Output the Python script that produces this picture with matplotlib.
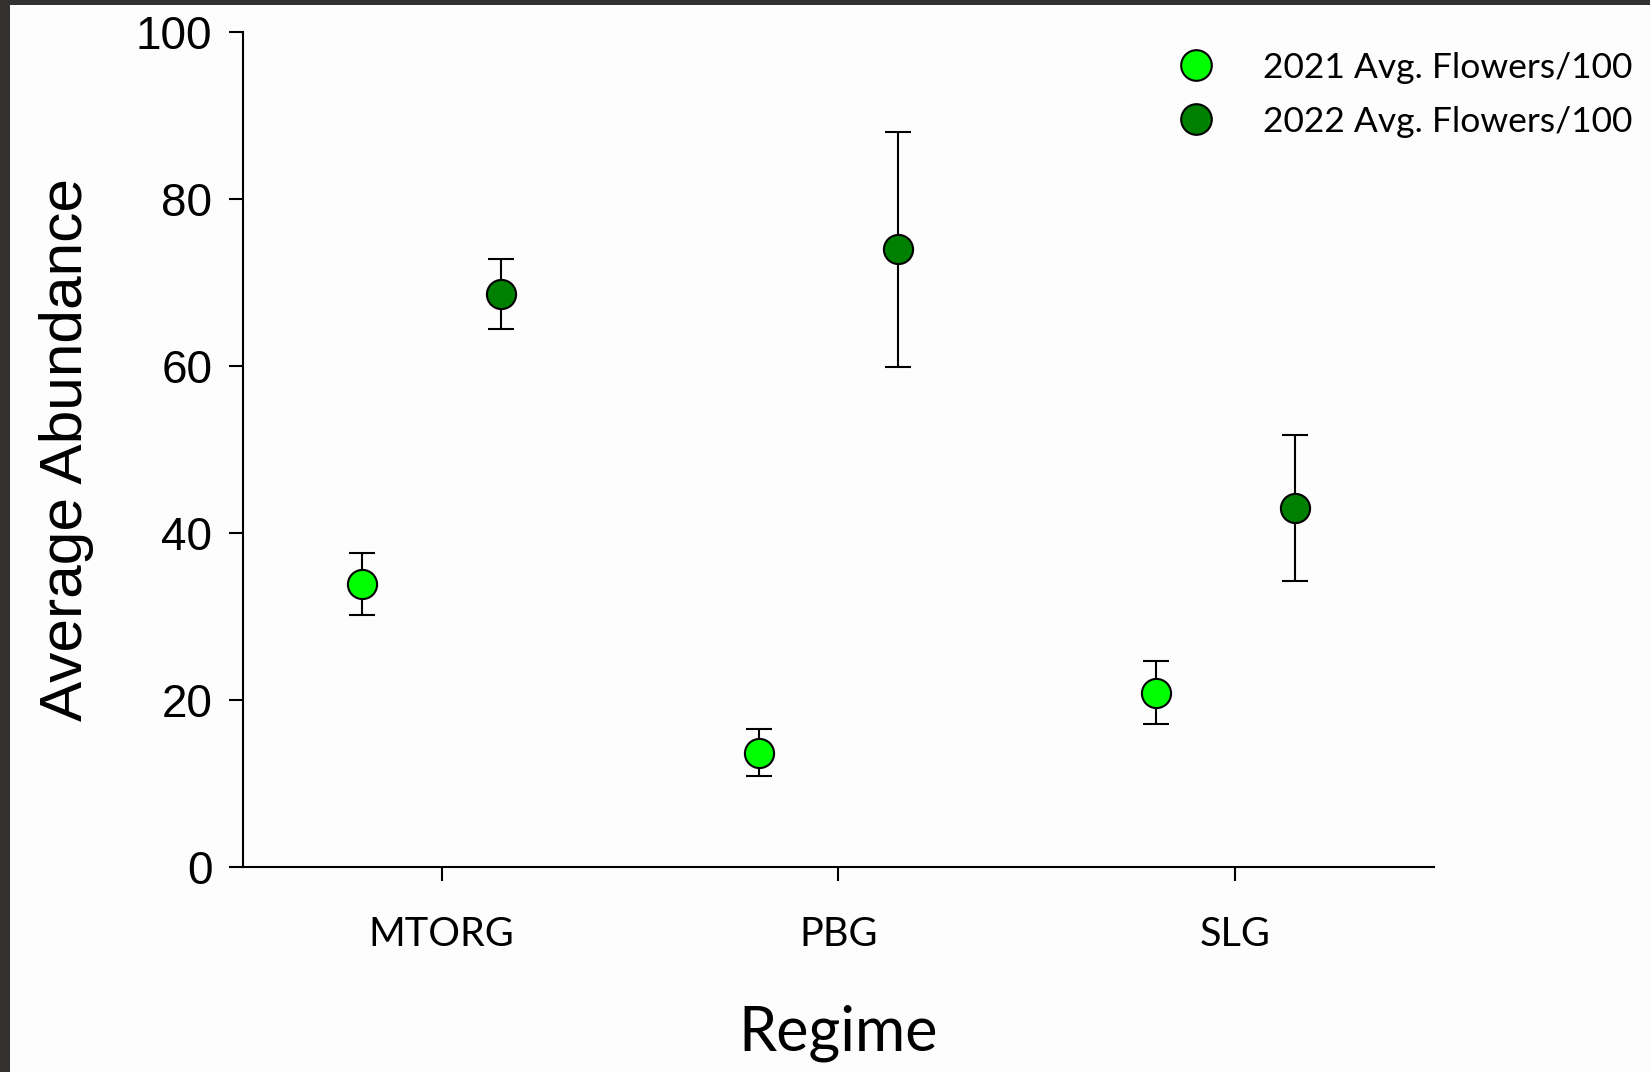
import numpy as np
import matplotlib.pyplot as plt
from matplotlib.patches import Rectangle

regimes = ['MTORG', 'PBG', 'SLG']
mean_2021 = [33.9, 13.7, 20.9]
err_2021 = [3.7, 2.8, 3.8]
mean_2022 = [68.6, 74.0, 43.0]
err_2022 = [4.2, 14.1, 8.7]
labels = ['2021 Avg. Flowers/100', '2022 Avg. Flowers/100']

arial = 'Liberation Sans'
calibri = 'Lato'

fig = plt.figure(figsize=(16.5, 10.72), dpi=100, facecolor='#333231')
fig.patches.append(Rectangle((10 / 1650, 0), 1, 1 - 5 / 1072, transform=fig.transFigure,
                             facecolor='#fdfdfd', edgecolor='none', zorder=-10))
ax = fig.add_axes([0.1473, 0.1912, 0.7217, 0.7788])
ax.set_facecolor('none')

x = np.arange(1, len(regimes) + 1)
ax.errorbar(x - 0.2, mean_2021, yerr=err_2021, fmt='o', color='black', ecolor='black',
            markerfacecolor='#00ff00', markeredgecolor='black', markeredgewidth=1.5,
            markersize=21, elinewidth=1.5, capsize=9.5, capthick=1.5, label=labels[0])
ax.errorbar(x + 0.15, mean_2022, yerr=err_2022, fmt='o', color='black', ecolor='black',
            markerfacecolor='#008000', markeredgecolor='black', markeredgewidth=1.5,
            markersize=21, elinewidth=1.5, capsize=9.5, capthick=1.5, label=labels[1])

ax.set_xlim(0.5, 3.5)
ax.set_ylim(0, 100)
ax.set_yticks([0, 20, 40, 60, 80, 100])
ax.set_xticks(x)
ax.set_xticklabels(regimes, fontsize=28.5, family=calibri)
for t in ax.get_yticklabels():
    t.set_fontfamily(arial)
    t.set_fontsize(33)
ax.tick_params(axis='both', direction='out', length=10, width=1.5, colors='black')
ax.tick_params(axis='y', pad=12)
ax.tick_params(axis='x', pad=25)
ax.spines['top'].set_visible(False)
ax.spines['right'].set_visible(False)
ax.spines['left'].set_linewidth(1.5)
ax.spines['bottom'].set_linewidth(1.5)

ax.set_ylabel('Average Abundance', fontsize=43.5, family=arial, labelpad=30)
ax.set_xlabel('Regime', fontsize=44, family=calibri, labelpad=37)

handles, lbls = ax.get_legend_handles_labels()
handles = [h[0] for h in handles]
fig.legend(handles, lbls, loc='upper right', bbox_to_anchor=(0.998, 0.965),
           frameon=False, prop={'family': calibri, 'size': 25.5}, handletextpad=0.9,
           labelspacing=0.62, markerscale=1.05, borderaxespad=0)

fig.savefig('out.png', dpi=100, facecolor=fig.get_facecolor())
